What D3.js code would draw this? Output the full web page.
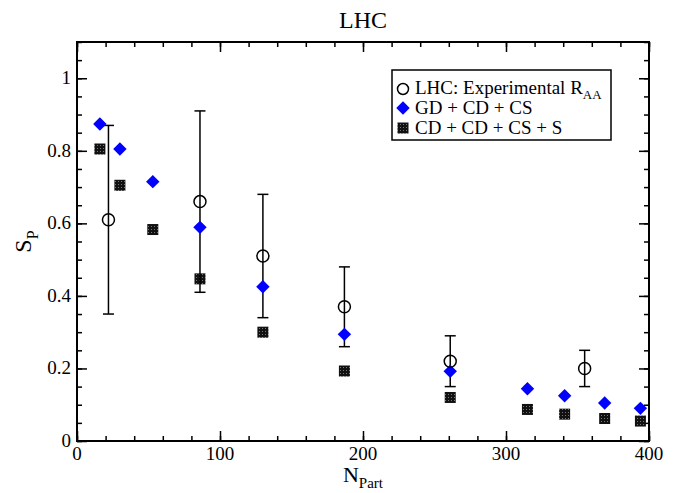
<!DOCTYPE html>
<html>
<head>
<meta charset="utf-8">
<script src="https://cdn.jsdelivr.net/npm/d3@7"></script>
<style>
html,body{margin:0;padding:0;background:#fff;}
svg text{font-family:"Liberation Serif","Times New Roman",serif;fill:#000;}
</style>
</head>
<body>
<svg id="chart" width="689" height="493"></svg>
<script>
// ---- data ----
const expNpart = [22, 86, 130, 187, 261, 355];
const expRaa   = [0.61, 0.66, 0.51, 0.37, 0.22, 0.20];
const expLow   = [0.35, 0.41, 0.34, 0.26, 0.15, 0.15];
const expHigh  = [0.87, 0.91, 0.68, 0.48, 0.29, 0.25];

const modelNpart = [16, 30, 53, 86, 130, 187, 261, 315, 341, 369, 394];
const gdSp  = [0.874, 0.805, 0.715, 0.589, 0.425, 0.294, 0.192, 0.144, 0.125, 0.105, 0.090];
const cdSp  = [0.805, 0.705, 0.583, 0.447, 0.300, 0.193, 0.120, 0.087, 0.074, 0.062, 0.055];

const xTicks = [0, 100, 200, 300, 400];
const yTicks = [0, 0.2, 0.4, 0.6, 0.8, 1];
const legendLabels = ["LHC: Experimental R", "GD + CD + CS", "CD + CD + CS + S"];

// ---- layout ----
const svg = d3.select("#chart");
const L = 77, R = 649, T = 42, B = 441;
const x = d3.scaleLinear().domain([0, 400]).range([L, R]);
const y = d3.scaleLinear().domain([0, 1.1]).range([B, T]);

// pattern for squares
const defs = svg.append("defs");
const pat = defs.append("pattern").attr("id","dots").attr("patternUnits","userSpaceOnUse")
  .attr("width",3).attr("height",3);
pat.append("rect").attr("width",3).attr("height",3).attr("fill","#111");
pat.append("rect").attr("x",1).attr("y",1).attr("width",1).attr("height",1).attr("fill","#777");

const fmtY = d => d === 0 ? "0" : d === 1 ? "1" : d3.format(".1f")(d);
const minorX = d3.range(0, 401, 20);
const minorY = d3.range(0, 1.1001, 0.05);

function tickAxis(axisGen, transform){
  const g = svg.append("g").attr("transform", transform).call(axisGen);
  g.select(".domain").remove();
  g.selectAll("line").attr("stroke","#000").attr("stroke-width",1.5);
  return g;
}
// bottom
tickAxis(d3.axisTop(x).tickValues(minorX).tickSize(5).tickFormat(""), `translate(0,${B})`);
tickAxis(d3.axisTop(x).tickValues(xTicks).tickSize(10).tickFormat(""), `translate(0,${B})`);
// top
tickAxis(d3.axisBottom(x).tickValues(minorX).tickSize(5).tickFormat(""), `translate(0,${T})`);
tickAxis(d3.axisBottom(x).tickValues(xTicks).tickSize(10).tickFormat(""), `translate(0,${T})`);
// left
tickAxis(d3.axisRight(y).tickValues(minorY).tickSize(5).tickFormat(""), `translate(${L},0)`);
tickAxis(d3.axisRight(y).tickValues(yTicks).tickSize(10).tickFormat(""), `translate(${L},0)`);
// right
tickAxis(d3.axisLeft(y).tickValues(minorY).tickSize(5).tickFormat(""), `translate(${R},0)`);
tickAxis(d3.axisLeft(y).tickValues(yTicks).tickSize(10).tickFormat(""), `translate(${R},0)`);

// tick labels
svg.append("g").selectAll("text").data(xTicks).join("text")
  .attr("x", d => x(d)).attr("y", B + 19).attr("text-anchor","middle")
  .attr("font-size",19).text(d => d);
svg.append("g").selectAll("text").data(yTicks).join("text")
  .attr("x", L - 6).attr("y", d => y(d) + 6).attr("text-anchor","end")
  .attr("font-size",19).text(fmtY);

// frame
svg.append("rect").attr("x",L).attr("y",T).attr("width",R-L).attr("height",B-T)
  .attr("fill","none").attr("stroke","#000").attr("stroke-width",2);

// title & axis labels
svg.append("text").attr("x",(L+R)/2).attr("y",28).attr("text-anchor","middle")
  .attr("font-size",24).text("LHC");
const xl = svg.append("text").attr("x",(L+R)/2).attr("y",482).attr("text-anchor","middle").attr("font-size",22);
xl.append("tspan").text("N");
xl.append("tspan").attr("font-size",15).attr("dy",6).text("Part");
const yl = svg.append("text").attr("transform",`translate(31,${(T+B)/2}) rotate(-90)`).attr("text-anchor","middle").attr("font-size",24);
yl.append("tspan").text("S");
yl.append("tspan").attr("font-size",16).attr("dy",7).text("P");

// data layers
const diamond = d3.symbol().type(d3.symbolDiamond2).size(115);
const expData = expNpart.map((n,i)=>({n, v:expRaa[i], lo:expLow[i], hi:expHigh[i]}));

// squares
svg.append("g").selectAll("rect").data(modelNpart.map((n,i)=>({n,v:cdSp[i]}))).join("rect")
  .attr("x", d => x(d.n)-5.5).attr("y", d => y(d.v)-5.5).attr("width",11).attr("height",11)
  .attr("fill","url(#dots)");

// error bars
const eb = svg.append("g").attr("stroke","#000").attr("stroke-width",1.5);
eb.selectAll("line.v").data(expData).join("line").attr("class","v")
  .attr("x1",d=>x(d.n)).attr("x2",d=>x(d.n)).attr("y1",d=>y(d.lo)).attr("y2",d=>y(d.hi));
eb.selectAll("line.t").data(expData).join("line").attr("class","t")
  .attr("x1",d=>x(d.n)-5.5).attr("x2",d=>x(d.n)+5.5).attr("y1",d=>y(d.hi)).attr("y2",d=>y(d.hi));
eb.selectAll("line.b").data(expData).join("line").attr("class","b")
  .attr("x1",d=>x(d.n)-5.5).attr("x2",d=>x(d.n)+5.5).attr("y1",d=>y(d.lo)).attr("y2",d=>y(d.lo));

// diamonds
svg.append("g").selectAll("path").data(modelNpart.map((n,i)=>({n,v:gdSp[i]}))).join("path")
  .attr("d", diamond).attr("transform", d => `translate(${x(d.n)},${y(d.v)})`)
  .attr("fill","#0000ff");

// circles
svg.append("g").selectAll("circle").data(expData).join("circle")
  .attr("cx",d=>x(d.n)).attr("cy",d=>y(d.v)).attr("r",6)
  .attr("fill","none").attr("stroke","#000").attr("stroke-width",1.5);

// legend
const lg = svg.append("g");
lg.append("rect").attr("x",392).attr("y",70).attr("width",219).attr("height",70)
  .attr("fill","#fff").attr("stroke","#000").attr("stroke-width",1.5);
const rows = [88, 108, 128];
lg.append("circle").attr("cx",403).attr("cy",rows[0]+1).attr("r",5.5).attr("fill","none").attr("stroke","#000").attr("stroke-width",1.5);
lg.append("path").attr("d",diamond).attr("transform",`translate(403,${rows[1]})`).attr("fill","#0000ff");
lg.append("rect").attr("x",397.5).attr("y",rows[2]-5.5).attr("width",11).attr("height",11).attr("fill","url(#dots)");
const t0 = lg.append("text").attr("x",415).attr("y",rows[0]+6).attr("font-size",19);
t0.append("tspan").text(legendLabels[0]);
t0.append("tspan").attr("font-size",13).attr("dy",5).text("AA");
lg.append("text").attr("x",415).attr("y",rows[1]+6).attr("font-size",19).text(legendLabels[1]);
lg.append("text").attr("x",415).attr("y",rows[2]+6).attr("font-size",19).text(legendLabels[2]);
</script>
</body>
</html>
